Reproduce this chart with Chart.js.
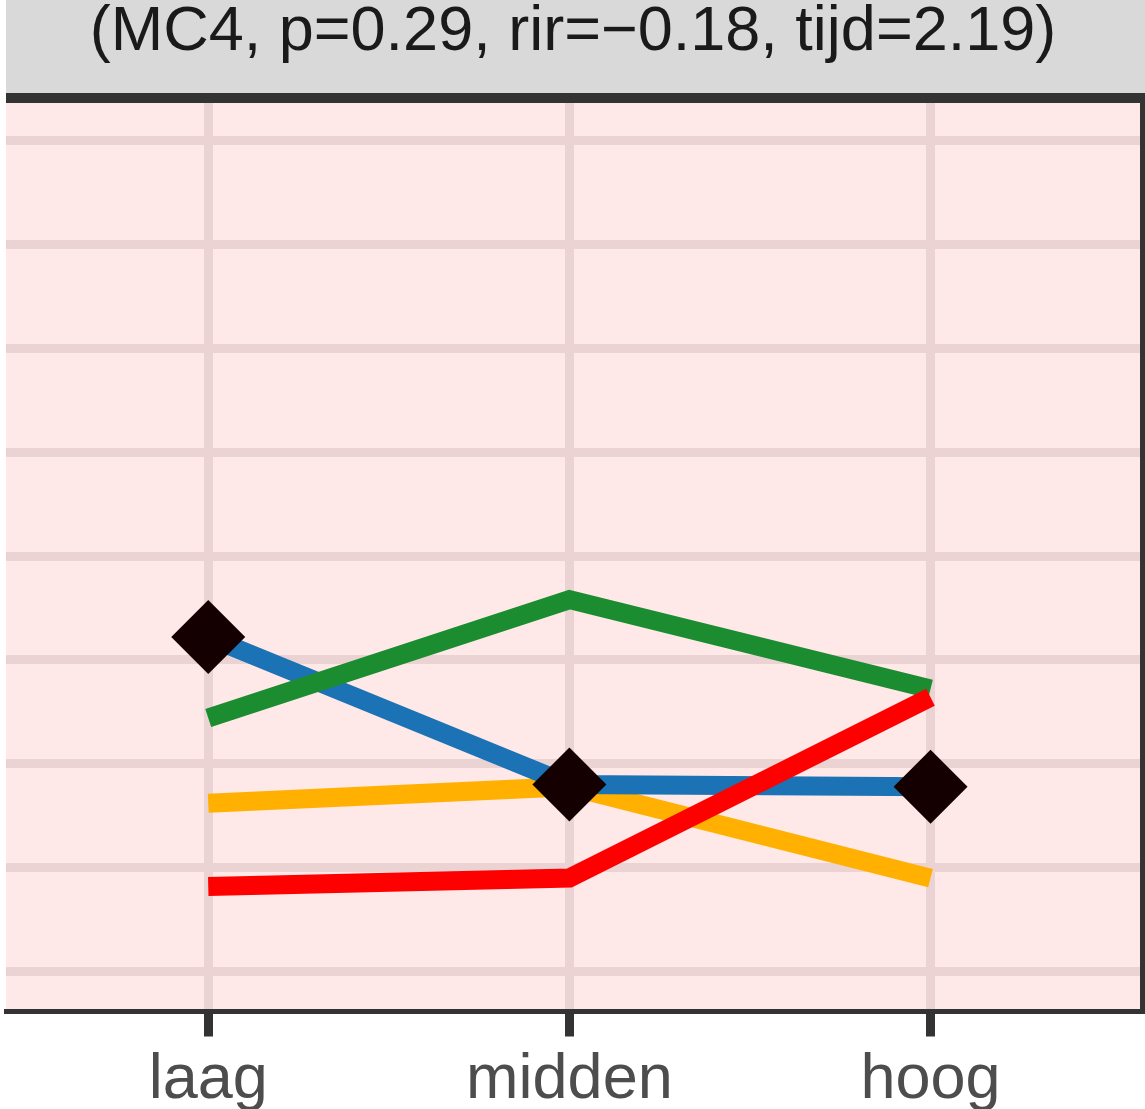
<!DOCTYPE html>
<html>
<head>
<meta charset="utf-8">
<script src="https://cdn.jsdelivr.net/npm/chart.js@4.4.1/dist/chart.umd.min.js"></script>
<style>
  html, body { margin: 0; padding: 0; background: #ffffff; }
  canvas { display: block; }
</style>
</head>
<body>
<canvas id="grafico" width="1145" height="1109"></canvas>
<script>
// categorieen en waarden
const categorieen = ['laag', 'midden', 'hoog'];
const xPosities = [1, 2, 3];
const blauw = [0.311, 0.240, 0.239];
const groen = [0.272, 0.329, 0.286];
const oranje = [0.231, 0.239, 0.195];
const rood = [0.191, 0.195, 0.282];
const juist = [0.311, 0.240, 0.239];
const yRaster = [0.15, 0.20, 0.25, 0.30, 0.35, 0.40, 0.45, 0.50, 0.55];
const titel = '(MC4, p=0.29, rir=\u22120.18, tijd=2.19)';

const lettertype = "'Liberation Sans', Arial, sans-serif";
const rasterKleur = '#EBD3D3';

function punten(waarden) {
    return waarden.map((v, i) => ({ x: xPosities[i], y: v }));
}

function lijn(waarden, kleur, volgorde) {
    return {
        data: punten(waarden),
        borderColor: kleur,
        backgroundColor: kleur,
        borderWidth: 19,
        pointRadius: 0,
        tension: 0,
        borderCapStyle: 'butt',
        order: volgorde
    };
}

// achtergrond van paneel en strook
const paneelAchtergrond = {
    id: 'paneelAchtergrond',
    beforeDraw(chart) {
        const ctx = chart.ctx;
        const ca = chart.chartArea;
        ctx.save();
        ctx.fillStyle = '#D9D9D9';
        ctx.fillRect(6, 0, chart.width - 6, 93);
        ctx.fillStyle = '#FFE8E8';
        ctx.fillRect(ca.left, ca.top, ca.right - ca.left, ca.bottom - ca.top);
        ctx.restore();
    },
    afterDraw(chart) {
        const ctx = chart.ctx;
        const ca = chart.chartArea;
        ctx.save();
        ctx.fillStyle = '#333333';
        ctx.fillRect(6, 93, chart.width - 6, 10);
        ctx.fillRect(ca.right, 93, chart.width - ca.right, ca.bottom + 2.5 - 93);
        ctx.restore();
    }
};

const ctx = document.getElementById('grafico').getContext('2d');
new Chart(ctx, {
    type: 'line',
    data: {
        datasets: [
            {
                data: punten(juist),
                showLine: false,
                pointStyle: 'rectRot',
                pointRadius: 37,
                pointBackgroundColor: '#140000',
                pointBorderColor: '#140000',
                pointBorderWidth: 0,
                order: 0
            },
            lijn(rood, '#FF0000', 1),
            lijn(groen, '#1B8D30', 2),
            lijn(blauw, '#1B72B5', 3),
            lijn(oranje, '#FFB000', 4)
        ]
    },
    options: {
        responsive: false,
        animation: false,
        devicePixelRatio: 1,
        layout: {
            autoPadding: false,
            padding: { left: 6, right: 5, top: 0, bottom: 0 }
        },
        plugins: {
            legend: { display: false },
            tooltip: { enabled: false },
            title: {
                display: true,
                text: titel,
                color: '#1A1A1A',
                font: { family: lettertype, size: 63, weight: 'normal', lineHeight: 1 },
                padding: { top: 1.5, bottom: 38.5 }
            }
        },
        scales: {
            x: {
                type: 'linear',
                min: 0.44,
                max: 3.58,
                afterBuildTicks: (schaal) => {
                    schaal.ticks = xPosities.map(v => ({ value: v }));
                },
                afterFit: (schaal) => {
                    schaal.height = 97.5;
                    schaal.paddingLeft = 0;
                    schaal.paddingRight = 0;
                },
                ticks: {
                    color: '#4D4D4D',
                    font: { family: lettertype, size: 63, lineHeight: 1 },
                    padding: 13,
                    maxRotation: 0,
                    autoSkip: false,
                    callback: (waarde) => categorieen[xPosities.indexOf(waarde)]
                },
                grid: {
                    color: rasterKleur,
                    lineWidth: 9,
                    tickColor: '#333333',
                    tickWidth: 9,
                    tickLength: 25
                },
                border: { display: true, color: '#333333', width: 5 }
            },
            y: {
                type: 'linear',
                min: 0.1308,
                max: 0.568,
                afterBuildTicks: (schaal) => {
                    schaal.ticks = yRaster.map(v => ({ value: v }));
                },
                afterFit: (schaal) => {
                    schaal.width = 0;
                    schaal.paddingTop = 0;
                    schaal.paddingBottom = 0;
                },
                ticks: { display: false },
                grid: { color: rasterKleur, lineWidth: 9, drawTicks: false },
                border: { display: false }
            }
        }
    },
    plugins: [paneelAchtergrond]
});
</script>
</body>
</html>
